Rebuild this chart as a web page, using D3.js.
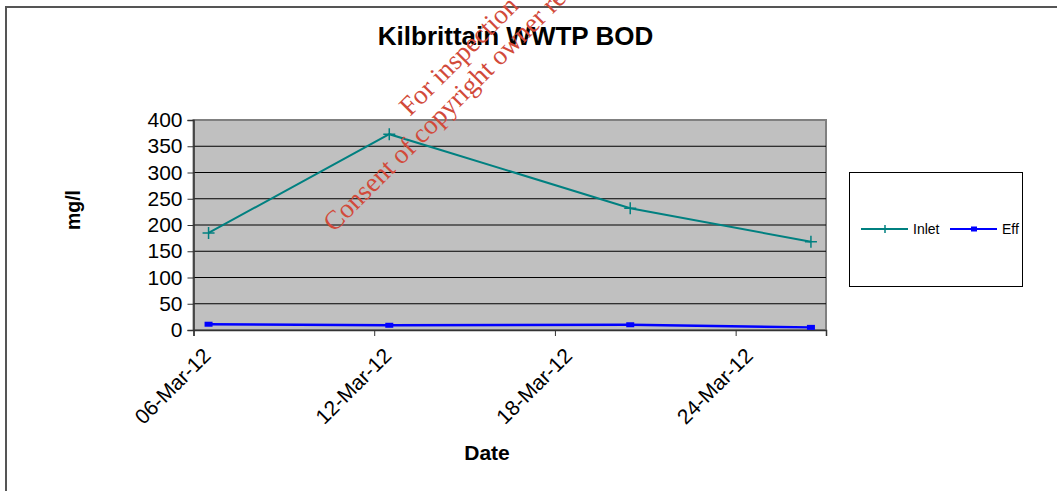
<!DOCTYPE html>
<html>
<head>
<meta charset="utf-8">
<script src="https://cdn.jsdelivr.net/npm/d3@7"></script>
<style>
  body { margin: 0; background: #fff; }
  svg { display: block; font-family: Arial, "Liberation Sans", sans-serif; }
</style>
</head>
<body>
<div id="chart"></div>
<script>
// Data
const dates = ["2012-03-06", "2012-03-12", "2012-03-20", "2012-03-26"];
const inlet = [185, 373, 232, 168];
const eff = [11, 9, 10, 5];
const xTicks = ["2012-03-06", "2012-03-12", "2012-03-18", "2012-03-24"];
const yTicks = [0, 50, 100, 150, 200, 250, 300, 350, 400];

const parse = d3.timeParse("%Y-%m-%d");
const fmt = d3.timeFormat("%d-%b-%y");

const width = 1057, height = 491;
const plot = { left: 193.5, right: 826, top: 120, bottom: 330 };

const svg = d3.select("#chart").append("svg")
    .attr("width", width)
    .attr("height", height);

// outer chart border
svg.append("rect")
    .attr("x", 6).attr("y", 7)
    .attr("width", 1200).attr("height", 700)
    .attr("fill", "#fff")
    .attr("stroke", "#555")
    .attr("stroke-width", 2);

// date axis: each day is a slot, points sit mid-day
const x = d3.scaleTime()
    .domain([parse("2012-03-06"), parse("2012-03-27")])
    .range([plot.left, plot.right]);
const y = d3.scaleLinear()
    .domain([0, 400])
    .range([plot.bottom, plot.top]);

const mid = d => d3.timeHour.offset(parse(d), 12);

// plot area
svg.append("rect")
    .attr("x", plot.left).attr("y", plot.top)
    .attr("width", plot.right - plot.left)
    .attr("height", plot.bottom - plot.top)
    .attr("fill", "#c0c0c0")
    .attr("stroke", "#808080")
    .attr("stroke-width", 2);

// gridlines
svg.append("g")
    .selectAll("line")
    .data(yTicks.filter(v => v > 0 && v < 400))
    .join("line")
    .attr("x1", plot.left).attr("x2", plot.right)
    .attr("y1", d => y(d)).attr("y2", d => y(d))
    .attr("stroke", "#000")
    .attr("stroke-width", 1);

// y axis
const yAxis = svg.append("g")
    .attr("transform", `translate(${plot.left},0)`)
    .call(d3.axisLeft(y).tickValues(yTicks).tickSize(6).tickPadding(5));
yAxis.select(".domain").attr("stroke", "#333").attr("stroke-width", 1.5);
yAxis.selectAll(".tick line").attr("stroke", "#333");
yAxis.selectAll("text")
    .attr("font-size", 21)
    .attr("fill", "#000")
    .attr("font-family", "Arial, 'Liberation Sans', sans-serif");

// x axis
const xAxis = svg.append("g")
    .attr("transform", `translate(0,${plot.bottom})`)
    .call(d3.axisBottom(x).tickValues(xTicks.map(parse)).tickSize(6).tickFormat(fmt));
xAxis.select(".domain").attr("stroke", "#333").attr("stroke-width", 1.5);
xAxis.selectAll(".tick line").attr("stroke", "#333");
xAxis.selectAll("text")
    .attr("font-size", 21)
    .attr("fill", "#000")
    .attr("font-family", "Arial, 'Liberation Sans', sans-serif")
    .attr("text-anchor", "end")
    .attr("dy", null)
    .attr("y", 0)
    .attr("transform", "translate(18,27) rotate(-45)");

// lines
const line = d3.line()
    .x(d => x(mid(d.date)))
    .y(d => y(d.value));

const inletData = dates.map((d, i) => ({ date: d, value: inlet[i] }));
const effData = dates.map((d, i) => ({ date: d, value: eff[i] }));

svg.append("path")
    .datum(inletData)
    .attr("fill", "none")
    .attr("stroke", "#008080")
    .attr("stroke-width", 2)
    .attr("d", line);

svg.append("g")
    .selectAll("path")
    .data(inletData)
    .join("path")
    .attr("d", d => {
        const cx = x(mid(d.date)), cy = y(d.value);
        return `M${cx - 6},${cy}H${cx + 6}M${cx},${cy - 6}V${cy + 6}`;
    })
    .attr("stroke", "#008080")
    .attr("stroke-width", 1.5);

svg.append("path")
    .datum(effData)
    .attr("fill", "none")
    .attr("stroke", "#0000ff")
    .attr("stroke-width", 2.5)
    .attr("d", line);

svg.append("g")
    .selectAll("rect")
    .data(effData)
    .join("rect")
    .attr("x", d => x(mid(d.date)) - 4)
    .attr("y", d => y(d.value) - 2.5)
    .attr("width", 8)
    .attr("height", 5)
    .attr("fill", "#0000ff");

// title and axis titles
svg.append("text")
    .attr("x", 515.5).attr("y", 45)
    .attr("text-anchor", "middle")
    .attr("font-size", 26)
    .attr("font-weight", "bold")
    .text("Kilbrittain WWTP BOD");

svg.append("text")
    .attr("transform", "translate(80,210) rotate(-90)")
    .attr("text-anchor", "middle")
    .attr("font-size", 19.5)
    .attr("font-weight", "bold")
    .text("mg/l");

svg.append("text")
    .attr("x", 487).attr("y", 460)
    .attr("text-anchor", "middle")
    .attr("font-size", 21)
    .attr("font-weight", "bold")
    .text("Date");

// legend
const legend = svg.append("g");
legend.append("rect")
    .attr("x", 849.5).attr("y", 172.5)
    .attr("width", 173).attr("height", 114)
    .attr("fill", "#fff")
    .attr("stroke", "#000")
    .attr("stroke-width", 1);

const legendItems = [
    { name: "Inlet", color: "#008080", x0: 861, marker: "cross" },
    { name: "Eff", color: "#0000ff", x0: 950, marker: "square" }
];
const ly = 229;
legendItems.forEach(it => {
    legend.append("line")
        .attr("x1", it.x0).attr("x2", it.x0 + 47)
        .attr("y1", ly).attr("y2", ly)
        .attr("stroke", it.color)
        .attr("stroke-width", 2);
    const cx = it.x0 + 24;
    if (it.marker === "cross") {
        legend.append("path")
            .attr("d", `M${cx},${ly - 4}V${ly + 4}`)
            .attr("stroke", it.color)
            .attr("stroke-width", 1.5);
    } else {
        legend.append("rect")
            .attr("x", cx - 3).attr("y", ly - 2.5)
            .attr("width", 6).attr("height", 5)
            .attr("fill", it.color);
    }
    legend.append("text")
        .attr("x", it.x0 + 52).attr("y", ly + 5)
        .attr("font-size", 14)
        .text(it.name);
});

// watermark stamp on top (only the part that shows inside the frame)
const wm = svg.append("g")
    .attr("fill", "#d24a3a")
    .attr("font-family", "'Liberation Serif', 'Times New Roman', serif")
    .attr("font-size", 27);
wm.append("text")
    .attr("transform", "translate(410,117) rotate(-45)")
    .text("For inspection");
wm.append("text")
    .attr("transform", "translate(334,233) rotate(-45)")
    .text("Consent of copyright owner re");
</script>
</body>
</html>
